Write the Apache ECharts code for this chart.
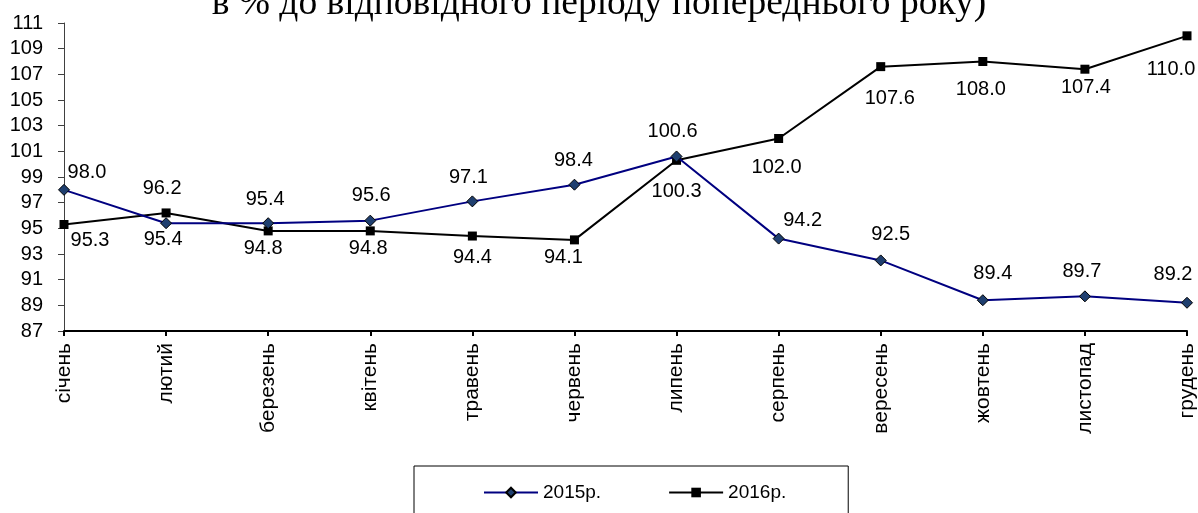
<!DOCTYPE html>
<html>
<head>
<meta charset="utf-8">
<script src="https://cdn.jsdelivr.net/npm/echarts@6/dist/echarts.min.js"></script>
<style>html,body{margin:0;padding:0;background:#fff;}#c{width:1198px;height:513px;}</style>
</head>
<body>
<div id="c"></div>
<script>
const titleText = 'в % до відповідного періоду попереднього року)';
const months = ['січень','лютий','березень','квітень','травень','червень','липень','серпень','вересень','жовтень','листопад','грудень'];
const s2015 = [98.0, 95.4, 95.4, 95.6, 97.1, 98.4, 100.6, 94.2, 92.5, 89.4, 89.7, 89.2];
const s2016 = [95.3, 96.2, 94.8, 94.8, 94.4, 94.1, 100.3, 102.0, 107.6, 108.0, 107.4, 110.0];
const yTicks = [87, 89, 91, 93, 95, 97, 99, 101, 103, 105, 107, 109, 111];

// label nudges (pixels, relative to each marker) - styling only
const nudge2015 = [[23,-17],[-3,16],[-3,-24],[1,-25],[-4,-24],[-1,-24],[-4,-25],[24,-18],[10,-26],[10,-27],[-3,-25],[-14,-28]];
const nudge2016 = [[26,16],[-4,-24],[-5,18],[-2,18],[0,21],[-11,18],[0,31],[-2,29],[9,32],[-2,28],[1,18],[-16,34]];

const FONT = 'Liberation Sans, Arial, sans-serif';

function items(values, nudges) {
  return values.map((v, i) => ({ value: v, label: { position: 'inside', offset: nudges[i] } }));
}

const chart = echarts.init(document.getElementById('c'));
chart.setOption({
  animation: false,
  backgroundColor: '#fff',
  title: {
    text: titleText,
    left: 'center',
    top: -20,
    textStyle: { fontFamily: 'Liberation Serif, Times New Roman, serif', fontSize: 37.5, fontWeight: 'normal', color: '#000' }
  },
  grid: { left: 64, right: 11, top: 23, bottom: 182, containLabel: false },
  legend: {
    left: 414,
    top: 466,
    padding: [17, 62, 30, 69],
    itemGap: 67,
    itemWidth: 54,
    itemHeight: 12,
    borderColor: '#000',
    borderWidth: 1,
    textStyle: { fontFamily: FONT, fontSize: 19, color: '#000' },
    data: ['2015р.', '2016р.']
  },
  xAxis: {
    type: 'category',
    data: months,
    boundaryGap: false,
    axisLine: { lineStyle: { color: '#000', width: 2 } },
    axisTick: { length: 5, lineStyle: { color: '#000', width: 2 } },
    axisLabel: { rotate: 90, fontFamily: FONT, fontSize: 21, color: '#000', margin: 12, interval: 0 },
    splitLine: { show: false }
  },
  yAxis: {
    type: 'value',
    min: yTicks[0],
    max: yTicks[yTicks.length - 1],
    interval: 2,
    axisLine: { show: true, lineStyle: { color: '#404040', width: 1 } },
    axisTick: { show: true, length: 6, lineStyle: { color: '#404040' } },
    axisLabel: { fontFamily: FONT, fontSize: 20, color: '#000', margin: 21 },
    splitLine: { show: false }
  },
  series: [
    {
      name: '2015р.',
      type: 'line',
      data: items(s2015, nudge2015),
      symbol: 'diamond',
      symbolSize: 11,
      lineStyle: { color: '#000080', width: 2 },
      itemStyle: { color: '#1F3F6F', borderColor: '#000', borderWidth: 1 },
      label: { show: true, fontFamily: FONT, fontSize: 20, color: '#000', formatter: p => p.value.toFixed(1) },
      z: 3
    },
    {
      name: '2016р.',
      type: 'line',
      data: items(s2016, nudge2016),
      symbol: 'rect',
      symbolSize: 9,
      lineStyle: { color: '#000', width: 2 },
      itemStyle: { color: '#000', borderColor: '#000', borderWidth: 0 },
      label: { show: true, fontFamily: FONT, fontSize: 20, color: '#000', formatter: p => p.value.toFixed(1) },
      z: 2
    }
  ]
});
</script>
</body>
</html>
